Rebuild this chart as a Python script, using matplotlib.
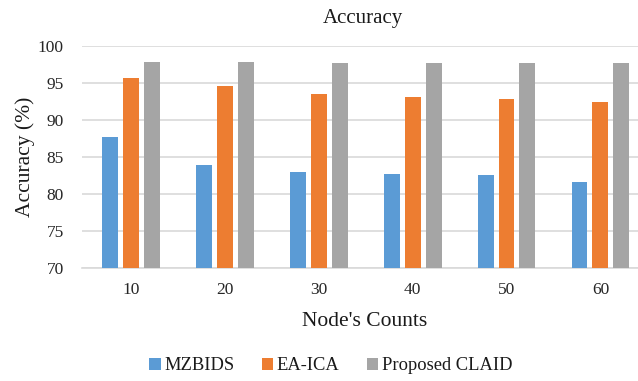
import matplotlib.pyplot as plt
import numpy as np

plt.rcParams['font.family'] = ['Liberation Serif', 'DejaVu Serif']

node_counts = ['10', '20', '30', '40', '50', '60']
mzbids = [87.6, 83.9, 83.0, 82.7, 82.5, 81.6]
ea_ica = [95.6, 94.6, 93.5, 93.0, 92.8, 92.4]
claid = [97.8, 97.8, 97.7, 97.7, 97.7, 97.7]

series = [('MZBIDS', mzbids, '#5B9BD5'),
          ('EA-ICA', ea_ica, '#ED7D31'),
          ('Proposed CLAID', claid, '#A5A5A5')]

W, H = 638, 381
fig = plt.figure(figsize=(W / 100, H / 100), dpi=100)
ax = fig.add_axes([82 / W, 1 - 268 / H, (638 - 82) / W, (268 - 45.5) / H])

x = np.arange(len(node_counts))
width = 0.17
step = 0.223
for i, (name, vals, col) in enumerate(series):
    ax.bar(x + (i - 1) * step, vals, width, color=col, label=name, zorder=3)

ax.set_ylim(70, 100)
ax.set_yticks(np.arange(70, 101, 5))
ax.set_xlim(-0.52, 5.40)
ax.set_xticks(x)
ax.set_xticklabels(node_counts)
ax.grid(axis='y', color='#D9D9D9', linewidth=1.2, zorder=0)
for s in ['top', 'right', 'left']:
    ax.spines[s].set_visible(False)
ax.spines['bottom'].set_color('#D9D9D9')
ax.spines['bottom'].set_linewidth(1.2)
ax.tick_params(length=0, labelsize=12.5, colors='#262626')
ax.tick_params(axis='y', pad=13)
ax.tick_params(axis='x', pad=10)

fig.text(363 / W, 1 - 18 / H, 'Accuracy', ha='center', va='center', fontsize=15, color='#1a1a1a')
fig.text(25 / W, 1 - 157 / H, 'Accuracy (%)', ha='center', va='center', rotation=90,
         fontsize=15.5, color='#1a1a1a')
fig.text(365 / W, 1 - 322 / H, "Node's Counts", ha='center', va='center', fontsize=15.5, color='#1a1a1a')

fig.legend(loc='center', bbox_to_anchor=(331 / W, 1 - 366 / H), ncol=3, frameon=False,
           fontsize=13.3, handlelength=0.6, handleheight=0.6, handletextpad=0.2,
           columnspacing=1.5, labelcolor='#1a1a1a')

fig.savefig('out.png', dpi=100)
